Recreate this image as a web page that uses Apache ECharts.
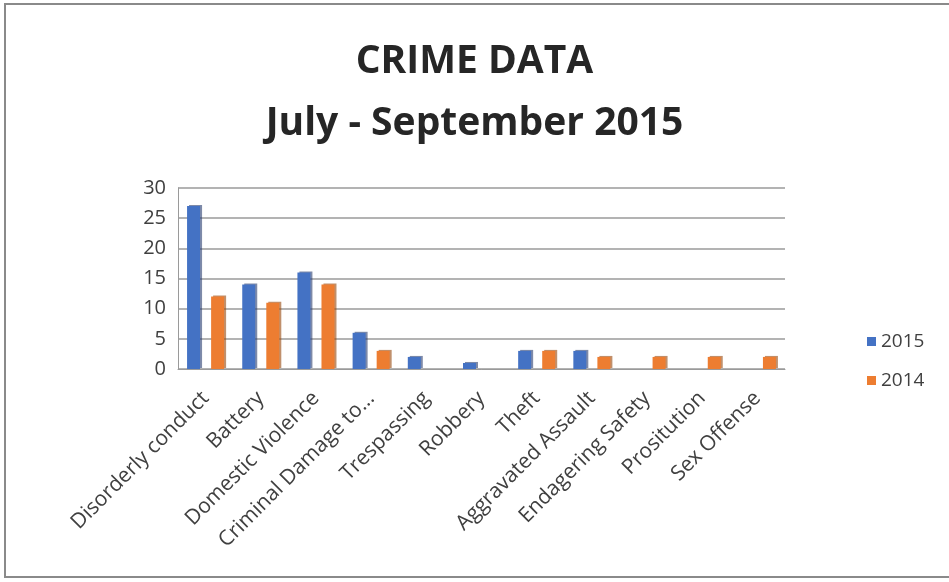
<!DOCTYPE html>
<html>
<head>
<meta charset="utf-8">
<script src="https://cdn.jsdelivr.net/npm/echarts@6/dist/echarts.min.js"></script>
<style>
  html, body { margin: 0; padding: 0; background: #fff; }
  #chart { width: 949px; height: 582px; }
</style>
</head>
<body>
<div id="chart"></div>
<script>
  // crime categories, July - September
  const categories = [
    'Disorderly conduct', 'Battery', 'Domestic Violence', 'Criminal Damage to...',
    'Trespassing', 'Robbery', 'Theft', 'Aggravated Assault',
    'Endagering Safety', 'Prositution', 'Sex Offense'
  ]
  const values2015 = [27, 14, 16, 6, 2, 1, 3, 3, 0, 0, 0]
  const values2014 = [12, 11, 14, 3, 0, 0, 3, 2, 2, 2, 2]
  const yTicks = [0, 5, 10, 15, 20, 25, 30]

  const chart = echarts.init(document.getElementById('chart'))

  const font = '"Open Sans", sans-serif'

  chart.setOption({
    backgroundColor: '#fff',
    animation: false,
    title: {
      text: 'CRIME DATA\nJuly - September 2015',
      left: 'center',
      top: 26,
      textStyle: {
        fontFamily: font,
        fontSize: 39,
        fontWeight: 'bold',
        color: '#262626',
        lineHeight: 62
      }
    },
    graphic: [{
      type: 'rect',
      shape: { x: 5, y: 4, width: 960, height: 573 },
      style: { fill: 'none', stroke: '#8a8a8a', lineWidth: 2 },
      silent: true
    }],
    legend: {
      orient: 'vertical',
      left: 862,
      top: 327,
      itemWidth: 9,
      itemHeight: 9,
      itemGap: 20,
      icon: 'rect',
      data: ['2015', '2014'],
      textStyle: { fontFamily: font, fontSize: 19, color: '#404040' }
    },
    grid: {
      left: 178,
      right: 164,
      top: 188,
      bottom: 213
    },
    xAxis: {
      type: 'category',
      data: categories,
      axisTick: { show: false },
      axisLine: { lineStyle: { color: '#9a9a9a' } },
      axisLabel: {
        rotate: 45,
        interval: 0,
        margin: 26,
        fontFamily: font,
        fontSize: 21,
        color: '#404040'
      }
    },
    yAxis: {
      type: 'value',
      min: 0,
      max: 30,
      interval: 5,
      axisLine: { show: true, lineStyle: { color: '#9a9a9a' } },
      axisTick: { show: false },
      splitLine: { lineStyle: { color: '#9a9a9a', width: 1.5 } },
      axisLabel: {
        margin: 12,
        fontFamily: font,
        fontSize: 20,
        color: '#404040',
        formatter: function(v) { return yTicks.indexOf(v) >= 0 ? String(v) : '' }
      }
    },
    series: [{
      name: '2015',
      type: 'bar',
      data: values2015,
      barWidth: 13,
      barGap: '85%',
      itemStyle: { color: '#4472C4', shadowColor: 'rgba(40,60,110,0.6)', shadowOffsetX: 2, shadowOffsetY: -1 }
    }, {
      name: '2014',
      type: 'bar',
      data: values2014,
      barWidth: 13,
      itemStyle: { color: '#ED7D31', shadowColor: 'rgba(150,70,10,0.6)', shadowOffsetX: 2, shadowOffsetY: -1 }
    }]
  })
</script>
</body>
</html>
